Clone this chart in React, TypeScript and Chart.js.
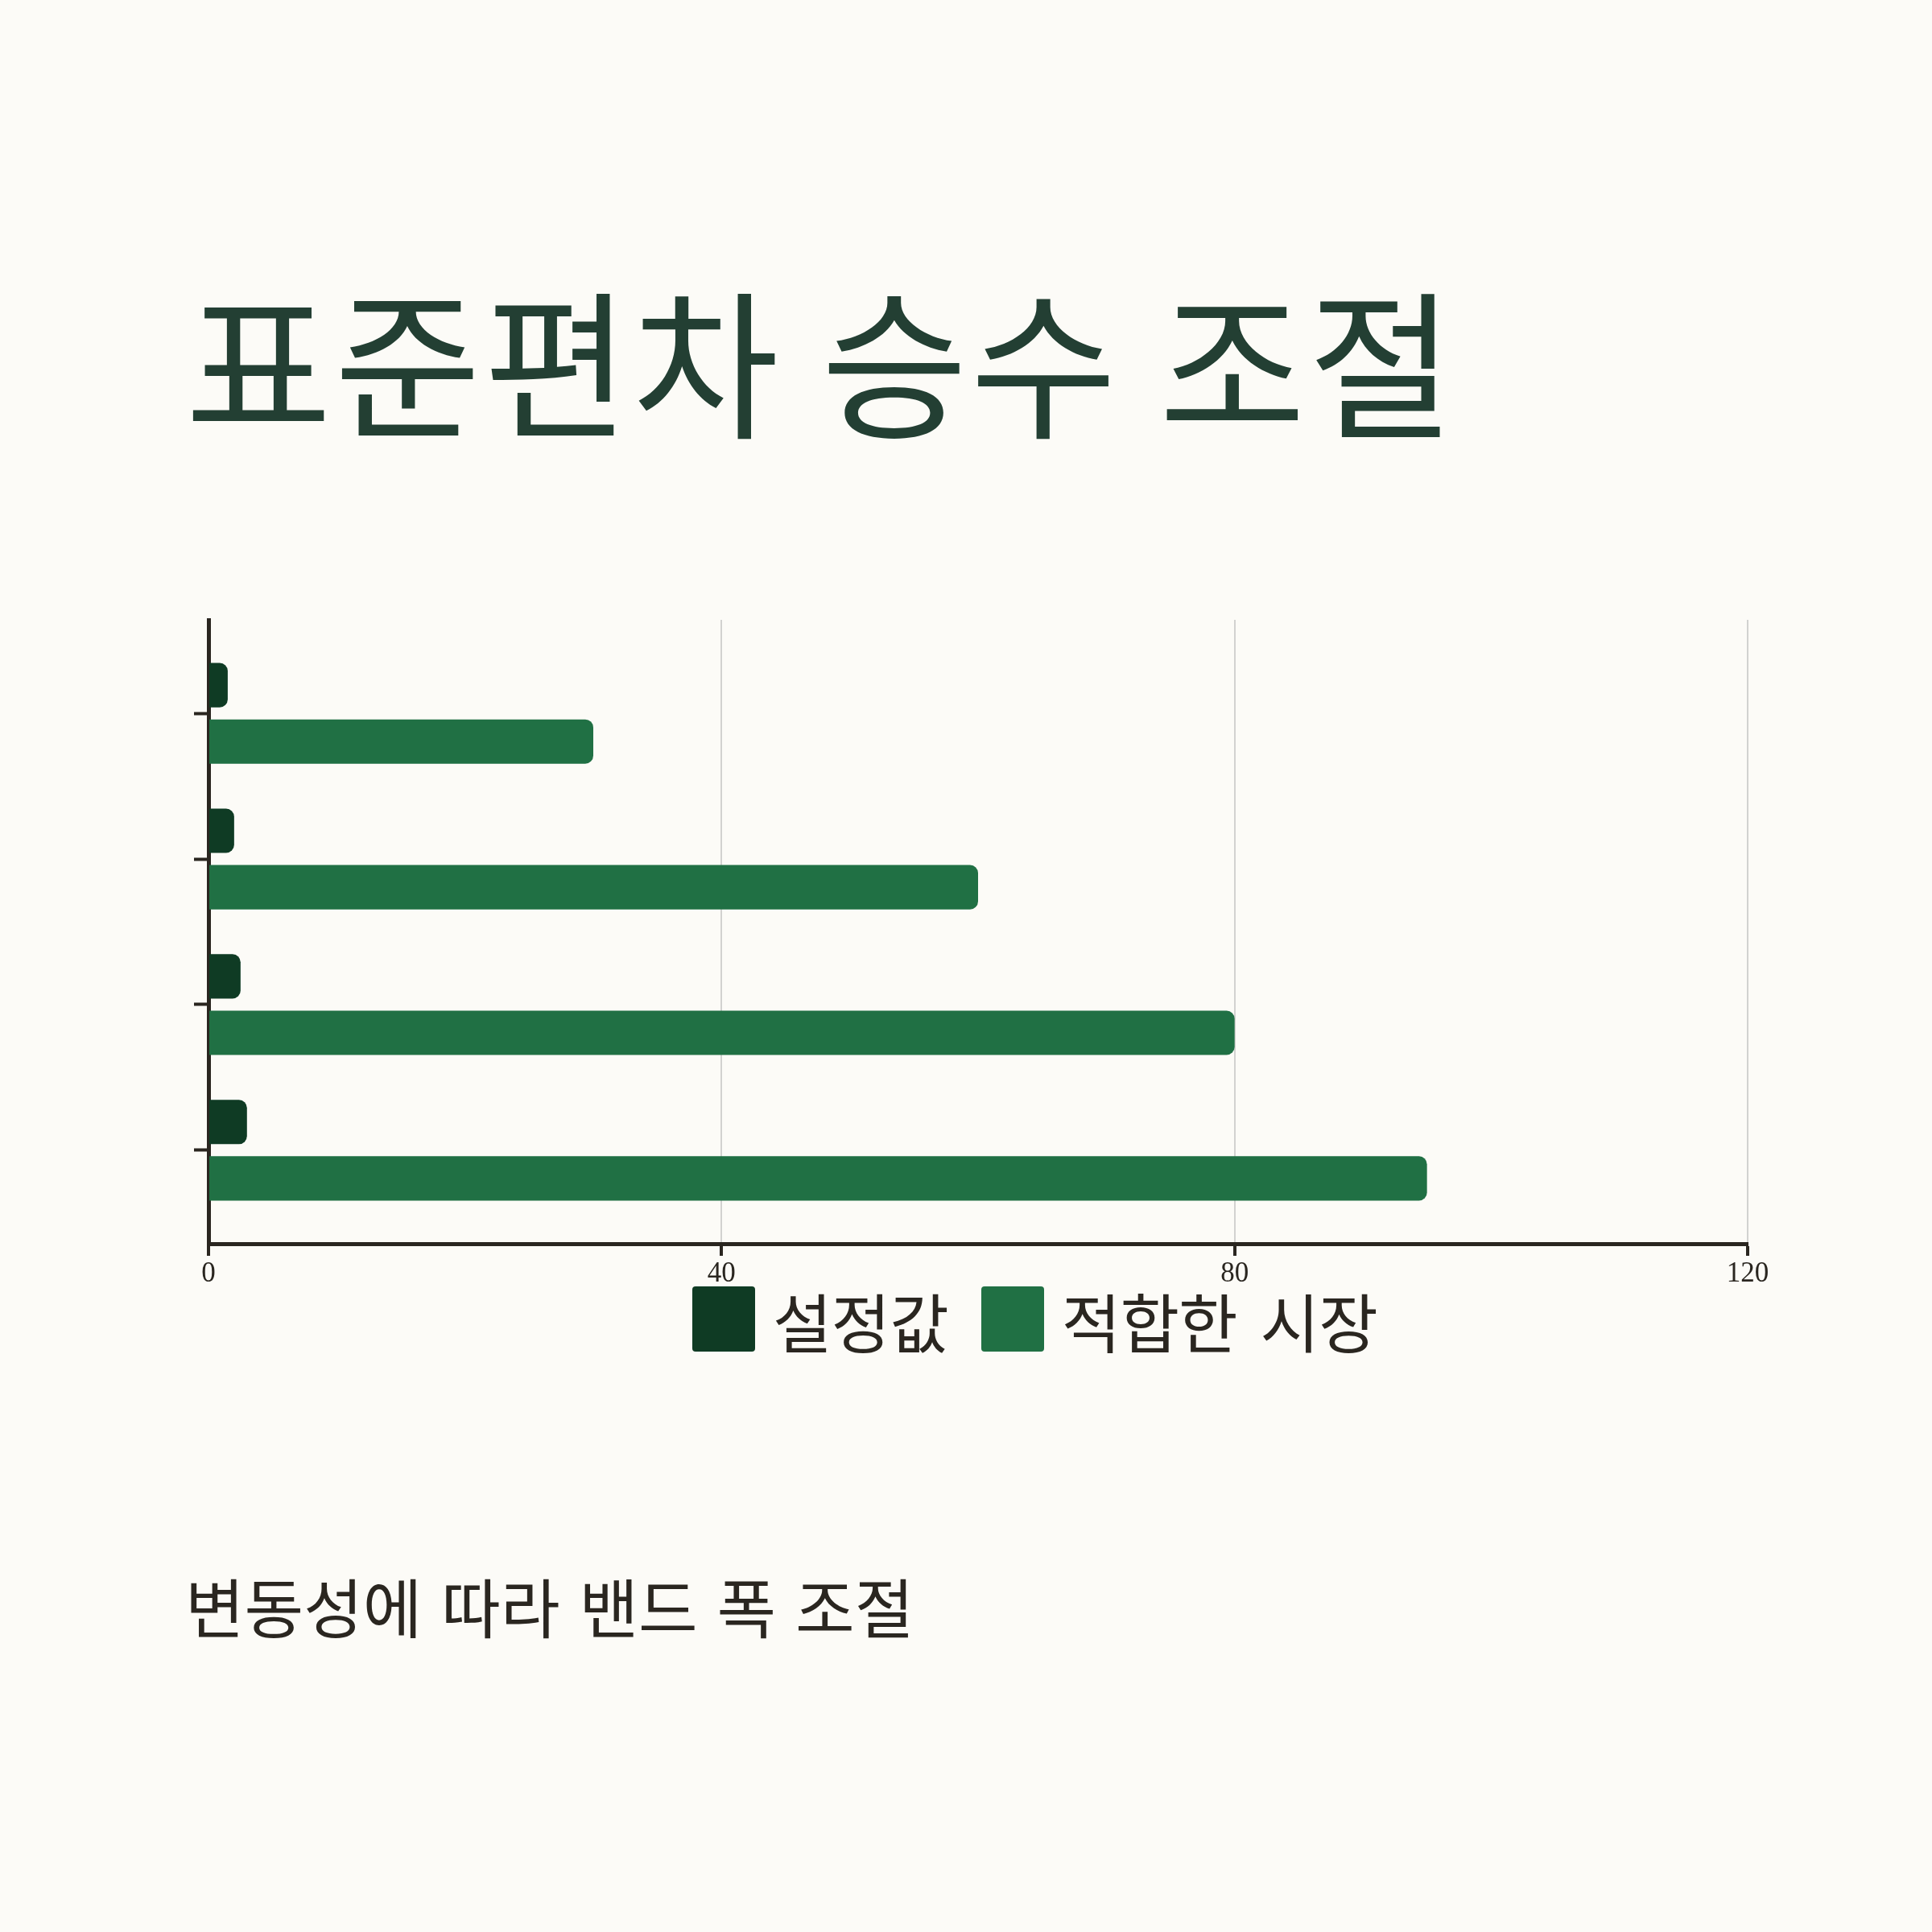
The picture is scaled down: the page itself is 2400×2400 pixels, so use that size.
import { useEffect, useRef } from "react";
import { Chart, registerables } from "chart.js";

Chart.register(...registerables);

// multiplier rows (labels are hidden on the chart)
const categories = ["1.5", "2.0", "2.5", "3.0"];
const settingValues = [1.5, 2, 2.5, 3];
const marketFit = [30, 60, 80, 95];
const xTicks = [0, 40, 80, 120];

const seriesNames = ["설정값", "적합한 시장"];
const seriesColors = ["#0f3b24", "#207044"];

const BG = "#fcfbf7";
const INK = "#2a2620";
const KR = '"Noto Sans CJK KR", "Noto Sans", sans-serif';

const App = () => {
  const canvasRef = useRef<HTMLCanvasElement>(null);
  const chartRef = useRef<Chart | null>(null);

  useEffect(() => {
    document.body.style.margin = "0";
    document.body.style.background = BG;
    if (!canvasRef.current) return;
    if (chartRef.current) chartRef.current.destroy();

    chartRef.current = new Chart(canvasRef.current, {
      type: "bar",
      data: {
        labels: categories,
        datasets: [
          {
            label: seriesNames[0],
            data: settingValues,
            backgroundColor: seriesColors[0],
            borderRadius: 10,
            borderSkipped: "start",
          },
          {
            label: seriesNames[1],
            data: marketFit,
            backgroundColor: seriesColors[1],
            borderRadius: 10,
            borderSkipped: "start",
          },
        ],
      },
      options: {
        indexAxis: "y",
        animation: false,
        responsive: false,
        devicePixelRatio: 1,
        categoryPercentage: 0.775,
        barPercentage: 0.786,
        layout: { padding: { top: 30, left: 41, right: 79, bottom: 14 } },
        plugins: {
          legend: { display: false },
          tooltip: { enabled: false },
        },
        scales: {
          x: {
            min: 0,
            max: 120,
            afterBuildTicks: (scale: any) => {
              scale.ticks = xTicks.map((v) => ({ value: v }));
            },
            border: { color: INK, width: 5 },
            grid: {
              color: "#d2d2d0",
              lineWidth: 2,
              tickColor: INK,
              tickWidth: 4,
              tickLength: 15,
            },
            ticks: {
              color: INK,
              padding: 2,
              font: { family: '"Liberation Serif", serif', size: 35 },
            },
          },
          y: {
            // band-style outer padding around the rows
            afterBuildTicks: (scale: any) => {
              scale._startValue = -0.642;
              scale._valueRange = categories.length - 1 + 2 * 0.642;
            },
            border: { color: INK, width: 5 },
            grid: {
              offset: false,
              drawOnChartArea: false,
              tickColor: INK,
              tickWidth: 4,
              tickLength: 18,
            },
            ticks: { display: false },
          },
        },
      },
    });

    return () => {
      if (chartRef.current) {
        chartRef.current.destroy();
        chartRef.current = null;
      }
    };
  }, []);

  return (
    <div
      style={{
        position: "absolute",
        left: 0,
        top: 0,
        width: 2400,
        height: 2400,
        background: BG,
        fontFamily: KR,
      }}
    >
      <div
        style={{
          position: "absolute",
          left: 230,
          top: 324,
          fontSize: 198,
          fontWeight: 400,
          letterSpacing: 3,
          wordSpacing: 2,
          color: "#233f33",
          lineHeight: 1.2,
          whiteSpace: "nowrap",
        }}
      >
        표준편차 승수 조절
      </div>

      <canvas
        ref={canvasRef}
        width={2050}
        height={880}
        style={{ position: "absolute", left: 200, top: 740, width: 2050, height: 880 }}
      />

      <div
        style={{
          position: "absolute",
          left: 860,
          top: 1598,
          height: 81,
          display: "flex",
          alignItems: "center",
          whiteSpace: "nowrap",
        }}
      >
        {seriesNames.map((name, i) => (
          <div key={name} style={{ display: "flex", alignItems: "center", marginRight: 41 }}>
            <div
              style={{
                width: 78,
                height: 81,
                borderRadius: 4,
                background: seriesColors[i],
                marginRight: 22,
              }}
            />
            <span style={{ fontSize: 80, color: INK, letterSpacing: -1, wordSpacing: 12, lineHeight: 1 }}>
              {name}
            </span>
          </div>
        ))}
      </div>

      <div
        style={{
          position: "absolute",
          left: 230,
          top: 1945,
          fontSize: 80,
          color: INK,
          letterSpacing: 0,
          wordSpacing: 6,
          lineHeight: 1.2,
          whiteSpace: "nowrap",
        }}
      >
        변동성에 따라 밴드 폭 조절
      </div>
    </div>
  );
};

export default App;
